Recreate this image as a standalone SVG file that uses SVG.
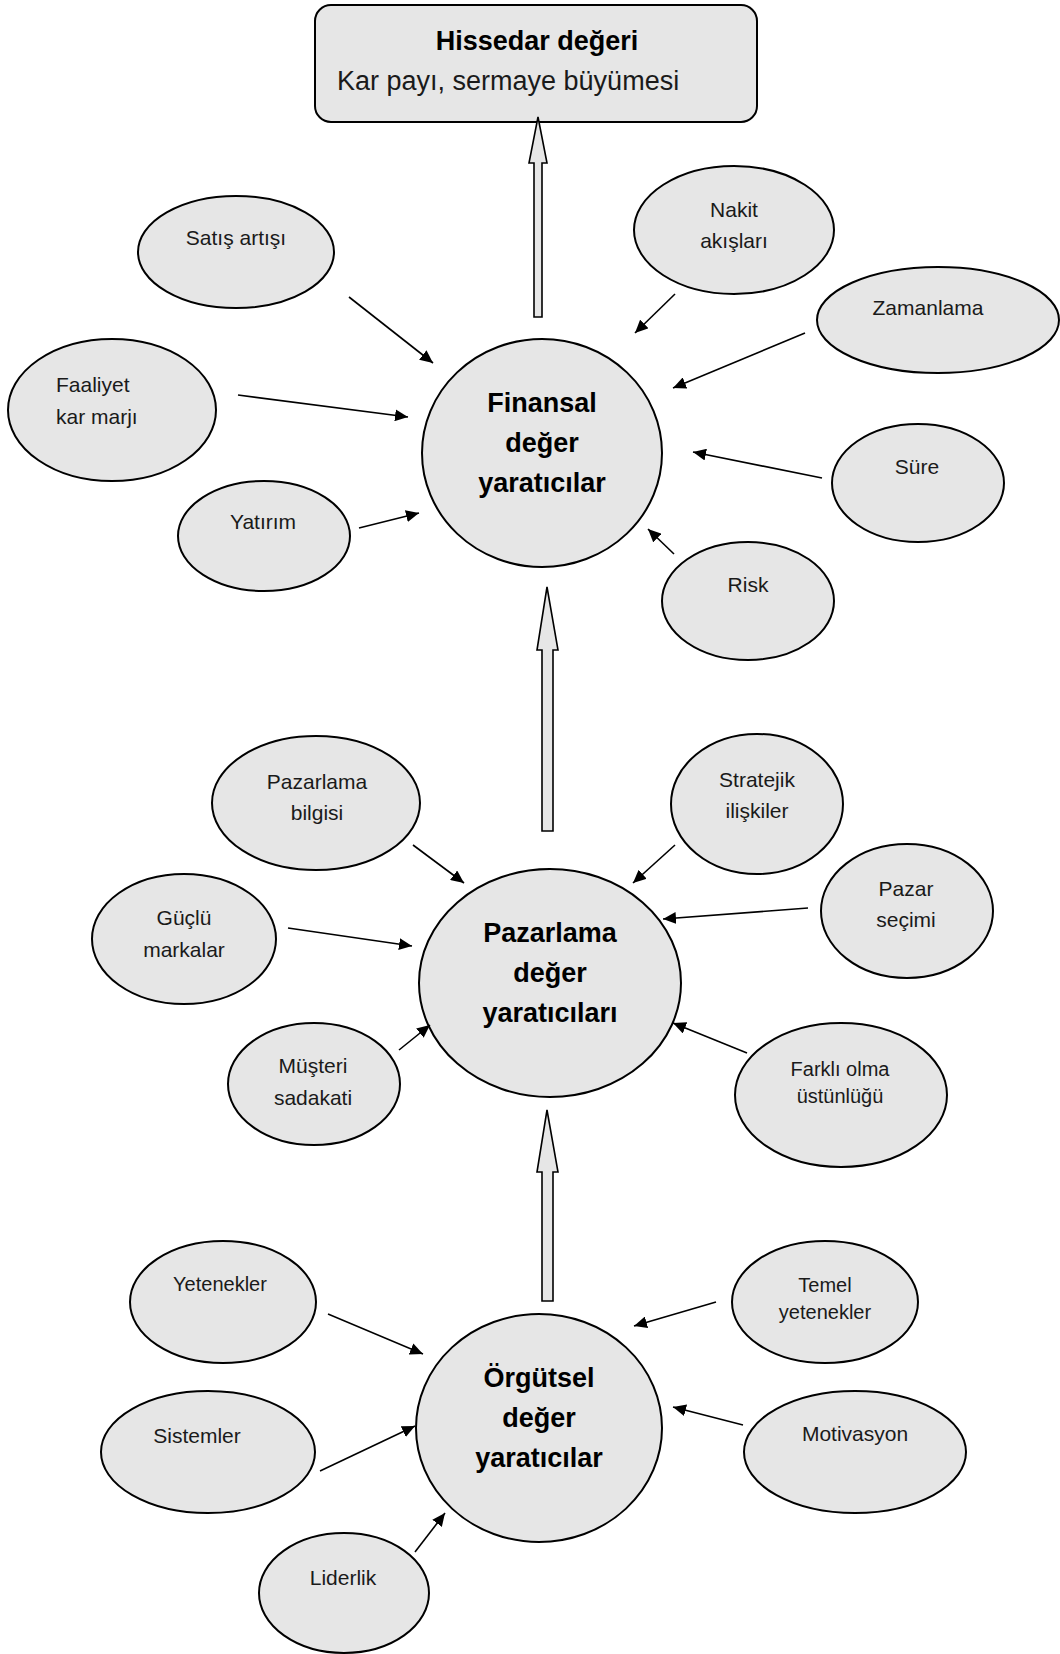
<svg xmlns="http://www.w3.org/2000/svg" width="1060" height="1654" viewBox="0 0 1060 1654">
<style>
.n{fill:#e6e6e6;stroke:#000;stroke-width:2}
.t{font-family:"Liberation Sans",Arial,sans-serif;font-size:21px;fill:#1a1a1a;text-anchor:middle}
.s{font-size:20px}
.b{font-family:"Liberation Sans",Arial,sans-serif;font-size:27px;font-weight:bold;fill:#000;text-anchor:middle}
.c{stroke:#000;stroke-width:1.6;fill:none;marker-end:url(#ah)}
.h{fill:#e6e6e6;stroke:#000;stroke-width:1.6}
</style>
<defs>
<marker id="ah" markerUnits="userSpaceOnUse" markerWidth="14" markerHeight="12" refX="13" refY="6" orient="auto">
<path d="M0,0 L13,6 L0,12 Z" fill="#000"/>
</marker>
</defs>
<rect width="1060" height="1654" fill="#fff"/>

<g id="hissedar">
<rect class="n" x="315" y="5" width="442" height="117" rx="16"/>
<text class="b" x="537" y="50">Hissedar değeri</text>
<text x="337" y="90" style="font-family:'Liberation Sans',Arial,sans-serif;font-size:27px;fill:#1a1a1a">Kar payı, sermaye büyümesi</text>
</g>

<g id="hollow-arrows">
<path class="h" d="M534,317 L534,163 L529,163 L538,117 L547,163 L542,163 L542,317 Z"/>
<path class="h" d="M542,831 L542,650 L537,650 L547,587 L558,650 L553,650 L553,831 Z"/>
<path class="h" d="M542,1301 L542,1172 L537,1172 L547,1110 L558,1172 L553,1172 L553,1301 Z"/>
</g>

<g id="finansal">
<ellipse class="n" cx="542" cy="453" rx="120" ry="114"/>
<text class="b" x="542" y="412">Finansal</text>
<text class="b" x="542" y="452">değer</text>
<text class="b" x="542" y="492">yaratıcılar</text>
</g>
<g id="satis"><ellipse class="n" cx="236" cy="252" rx="98" ry="56"/><text class="t" x="236" y="245">Satış artışı</text></g>
<g id="faaliyet"><ellipse class="n" cx="112" cy="410" rx="104" ry="71"/><text class="t" x="56" y="392" text-anchor="start" style="text-anchor:start">Faaliyet</text><text class="t" x="56" y="424" style="text-anchor:start">kar marjı</text></g>
<g id="yatirim"><ellipse class="n" cx="264" cy="536" rx="86" ry="55"/><text class="t" x="263" y="529">Yatırım</text></g>
<g id="nakit"><ellipse class="n" cx="734" cy="230" rx="100" ry="64"/><text class="t" x="734" y="217">Nakit</text><text class="t" x="734" y="248">akışları</text></g>
<g id="zamanlama"><ellipse class="n" cx="938" cy="320" rx="121" ry="53"/><text class="t" x="928" y="315">Zamanlama</text></g>
<g id="sure"><ellipse class="n" cx="918" cy="483" rx="86" ry="59"/><text class="t" x="917" y="474">Süre</text></g>
<g id="risk"><ellipse class="n" cx="748" cy="601" rx="86" ry="59"/><text class="t" x="748" y="592">Risk</text></g>

<g id="pazarlama">
<ellipse class="n" cx="550" cy="983" rx="131" ry="114"/>
<text class="b" x="550" y="942">Pazarlama</text>
<text class="b" x="550" y="982">değer</text>
<text class="b" x="550" y="1022">yaratıcıları</text>
</g>
<g id="pazarlama-bilgisi"><ellipse class="n" cx="316" cy="803" rx="104" ry="67"/><text class="t" x="317" y="789">Pazarlama</text><text class="t" x="317" y="820">bilgisi</text></g>
<g id="guclu"><ellipse class="n" cx="184" cy="939" rx="92" ry="65"/><text class="t" x="184" y="925">Güçlü</text><text class="t" x="184" y="957">markalar</text></g>
<g id="musteri"><ellipse class="n" cx="314" cy="1084" rx="86" ry="61"/><text class="t" x="313" y="1073">Müşteri</text><text class="t" x="313" y="1105">sadakati</text></g>
<g id="stratejik"><ellipse class="n" cx="757" cy="804" rx="86" ry="70"/><text class="t" x="757" y="787">Stratejik</text><text class="t" x="757" y="818">ilişkiler</text></g>
<g id="pazar-secimi"><ellipse class="n" cx="907" cy="911" rx="86" ry="67"/><text class="t" x="906" y="896">Pazar</text><text class="t" x="906" y="927">seçimi</text></g>
<g id="farkli"><ellipse class="n" cx="841" cy="1095" rx="106" ry="72"/><text class="t s" x="840" y="1076">Farklı olma</text><text class="t s" x="840" y="1103">üstünlüğü</text></g>

<g id="orgutsel">
<ellipse class="n" cx="539" cy="1428" rx="123" ry="114"/>
<text class="b" x="539" y="1387">Örgütsel</text>
<text class="b" x="539" y="1427">değer</text>
<text class="b" x="539" y="1467">yaratıcılar</text>
</g>
<g id="yetenekler"><ellipse class="n" cx="223" cy="1302" rx="93" ry="61"/><text class="t s" x="220" y="1291">Yetenekler</text></g>
<g id="sistemler"><ellipse class="n" cx="208" cy="1452" rx="107" ry="61"/><text class="t" x="197" y="1443">Sistemler</text></g>
<g id="liderlik"><ellipse class="n" cx="344" cy="1593" rx="85" ry="60"/><text class="t" x="343" y="1585">Liderlik</text></g>
<g id="temel"><ellipse class="n" cx="825" cy="1302" rx="93" ry="61"/><text class="t s" x="825" y="1292">Temel</text><text class="t s" x="825" y="1319">yetenekler</text></g>
<g id="motivasyon"><ellipse class="n" cx="855" cy="1452" rx="111" ry="61"/><text class="t" x="855" y="1441">Motivasyon</text></g>

<g id="connectors">
<line class="c" x1="349" y1="297" x2="433" y2="363"/>
<line class="c" x1="238" y1="395" x2="408" y2="417"/>
<line class="c" x1="359" y1="528" x2="419" y2="513"/>
<line class="c" x1="675" y1="294" x2="635" y2="333"/>
<line class="c" x1="805" y1="333" x2="673" y2="388"/>
<line class="c" x1="822" y1="478" x2="693" y2="452"/>
<line class="c" x1="674" y1="554" x2="648" y2="529"/>
<line class="c" x1="413" y1="845" x2="464" y2="883"/>
<line class="c" x1="288" y1="928" x2="412" y2="946"/>
<line class="c" x1="399" y1="1050" x2="430" y2="1025"/>
<line class="c" x1="675" y1="845" x2="633" y2="883"/>
<line class="c" x1="808" y1="908" x2="663" y2="919"/>
<line class="c" x1="747" y1="1053" x2="673" y2="1023"/>
<line class="c" x1="328" y1="1314" x2="423" y2="1354"/>
<line class="c" x1="320" y1="1471" x2="415" y2="1426"/>
<line class="c" x1="415" y1="1552" x2="445" y2="1513"/>
<line class="c" x1="716" y1="1302" x2="634" y2="1326"/>
<line class="c" x1="743" y1="1425" x2="673" y2="1407"/>
</g>
</svg>
